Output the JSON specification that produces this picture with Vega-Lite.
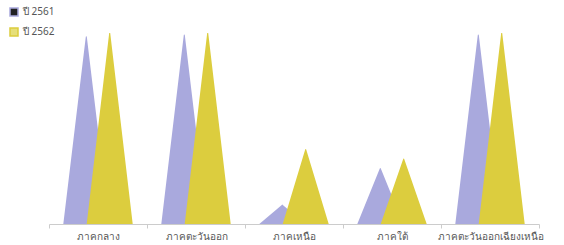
{
  "$schema": "https://vega.github.io/schema/vega-lite/v6.json",
  "width": 490,
  "height": 191,
  "autosize": "none",
  "padding": {"left": 49, "top": 33, "right": 25, "bottom": 21},
  "data": {
    "values": [
      {"region": "ภาคกลาง", "year": "ปี 2561", "value": 98},
      {"region": "ภาคกลาง", "year": "ปี 2562", "value": 100},
      {"region": "ภาคตะวันออก", "year": "ปี 2561", "value": 99},
      {"region": "ภาคตะวันออก", "year": "ปี 2562", "value": 100},
      {"region": "ภาคเหนือ", "year": "ปี 2561", "value": 10},
      {"region": "ภาคเหนือ", "year": "ปี 2562", "value": 39},
      {"region": "ภาคใต้", "year": "ปี 2561", "value": 29},
      {"region": "ภาคใต้", "year": "ปี 2562", "value": 34},
      {"region": "ภาคตะวันออกเฉียงเหนือ", "year": "ปี 2561", "value": 99},
      {"region": "ภาคตะวันออกเฉียงเหนือ", "year": "ปี 2562", "value": 100}
    ]
  },
  "transform": [
    {"calculate": "0", "as": "base"},
    {"fold": ["base", "value"], "as": ["end", "v"]}
  ],
  "mark": {"type": "trail", "clip": true},
  "encoding": {
    "x": {
      "field": "region", "type": "nominal", "sort": null,
      "scale": {"paddingInner": 0, "paddingOuter": 0},
      "axis": {"title": null, "labelAngle": 0, "labelFontSize": 10, "labelColor": "#555", "labelFont": "Noto Sans", "domainColor": "#ccc", "tickColor": "#ccc", "tickSize": 4, "tickBand": "extent", "labelPadding": 3}
    },
    "xOffset": {"field": "year", "type": "nominal", "scale": {"type": "point", "range": [37.3, 60.7], "padding": 0}},
    "y": {"field": "v", "type": "quantitative", "scale": {"domain": [0, 100], "nice": false}, "axis": null},
    "size": {"field": "end", "type": "ordinal", "scale": {"domain": ["base", "value"], "range": [46, 0]}, "legend": null},
    "color": {
      "field": "year", "type": "nominal",
      "scale": {"range": ["#a9a9dd", "#dccd3e"]},
      "legend": {"title": null, "orient": "none", "legendX": -40, "legendY": -26, "symbolType": "square", "symbolSize": 64, "labelFontSize": 10, "labelColor": "#555", "labelFont": "Noto Sans", "rowPadding": 6,
        "encode": {"symbols": {"update": {"fill": {"signal": "datum.value === 'ปี 2561' ? '#222222' : '#e6df7a'"}, "stroke": {"value": null}}}}}
    },
    "detail": {"field": "region"},
    "order": {"field": "end"}
  },
  "config": {"view": {"stroke": null}}
}
